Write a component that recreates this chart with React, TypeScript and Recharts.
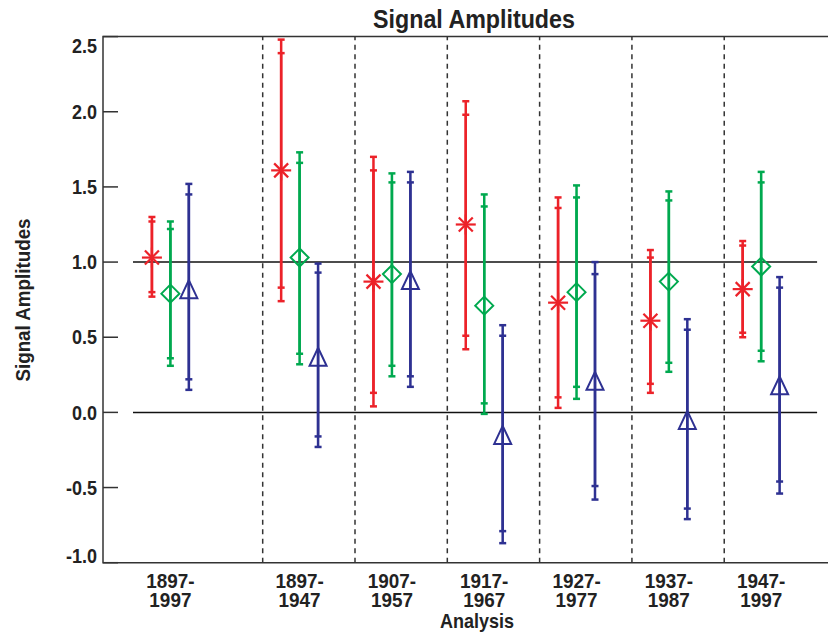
import React from "react";
import { ScatterChart, Scatter, XAxis, YAxis, ErrorBar, ReferenceLine, ReferenceArea } from "recharts";

// group positions on the x axis, and the dashed separators between them
const groupX = [0.73, 2.13, 3.13, 4.13, 5.13, 6.13, 7.13];
const separatorX = [1.73, 2.73, 3.73, 4.73, 5.73, 6.73];
const labelTop = ["1897-", "1897-", "1907-", "1917-", "1927-", "1937-", "1947-"];
const labelBottom = ["1997", "1947", "1957", "1967", "1977", "1987", "1997"];
const yTicks = [-1.0, -0.5, 0.0, 0.5, 1.0, 1.5, 2.0, 2.5];

const redCenter = [1.03, 1.61, 0.87, 1.25, 0.73, 0.61, 0.82];
const redOuterHi = [1.3, 2.48, 1.7, 2.07, 1.43, 1.08, 1.14];
const redInnerHi = [1.27, 2.39, 1.61, 1.98, 1.36, 1.03, 1.11];
const redInnerLo = [0.8, 0.83, 0.13, 0.51, 0.1, 0.19, 0.53];
const redOuterLo = [0.77, 0.74, 0.04, 0.42, 0.03, 0.13, 0.5];

const greenCenter = [0.79, 1.03, 0.92, 0.71, 0.8, 0.87, 0.97];
const greenOuterHi = [1.27, 1.73, 1.59, 1.45, 1.51, 1.47, 1.6];
const greenInnerHi = [1.22, 1.66, 1.53, 1.37, 1.43, 1.41, 1.53];
const greenInnerLo = [0.36, 0.39, 0.31, 0.06, 0.17, 0.33, 0.41];
const greenOuterLo = [0.31, 0.32, 0.24, -0.01, 0.09, 0.27, 0.34];

const blueCenter = [0.82, 0.37, 0.88, -0.15, 0.21, -0.05, 0.18];
const blueOuterHi = [1.52, 0.99, 1.6, 0.58, 1.0, 0.62, 0.9];
const blueInnerHi = [1.45, 0.93, 1.53, 0.51, 0.92, 0.55, 0.83];
const blueInnerLo = [0.22, -0.16, 0.24, -0.79, -0.49, -0.64, -0.46];
const blueOuterLo = [0.15, -0.23, 0.17, -0.87, -0.58, -0.71, -0.54];

const X_MAX = 8.06;
const OFFSET = 0.2;
const RED = "#ec2229";
const GREEN = "#00a94f";
const BLUE = "#2e3192";
const FONT = "'Liberation Sans', Arial, sans-serif";

function build(center: number[], oLo: number[], oHi: number[], iLo: number[], iHi: number[], shift: number) {
  return center.map((c, i) => ({
    x: groupX[i] + shift,
    y: c,
    outer: [c - oLo[i], oHi[i] - c],
    inner: [c - iLo[i], iHi[i] - c],
  }));
}

const redData = build(redCenter, redOuterLo, redOuterHi, redInnerLo, redInnerHi, -OFFSET);
const greenData = build(greenCenter, greenOuterLo, greenOuterHi, greenInnerLo, greenInnerHi, 0);
const blueData = build(blueCenter, blueOuterLo, blueOuterHi, blueInnerLo, blueInnerHi, OFFSET);

const Asterisk = (p: any) => {
  const { cx, cy } = p;
  const r = 10, d = 7;
  return (
    <g stroke={RED} strokeWidth={2.2}>
      <line x1={cx - r} y1={cy} x2={cx + r} y2={cy} />
      <line x1={cx} y1={cy - r} x2={cx} y2={cy + r} />
      <line x1={cx - d} y1={cy - d} x2={cx + d} y2={cy + d} />
      <line x1={cx - d} y1={cy + d} x2={cx + d} y2={cy - d} />
    </g>
  );
};

const Diamond = (p: any) => {
  const { cx, cy } = p;
  return <polygon points={`${cx},${cy - 9} ${cx + 9},${cy} ${cx},${cy + 9} ${cx - 9},${cy}`} fill="none" stroke={GREEN} strokeWidth={2} />;
};

const Triangle = (p: any) => {
  const { cx, cy } = p;
  return <polygon points={`${cx},${cy - 9} ${cx + 8.5},${cy + 9} ${cx - 8.5},${cy + 9}`} fill="none" stroke={BLUE} strokeWidth={2} />;
};

const YTick = (p: any) => {
  const { y, payload } = p;
  const v = payload.value;
  const dy = v === 2.5 ? 16.5 : v === -1 ? 0.5 : 7.2;
  return (
    <g>
      <line x1={95} y1={y} x2={110} y2={y} stroke="#333" strokeWidth={1.5} />
      <line x1={824} y1={y} x2={839} y2={y} stroke="#333" strokeWidth={1.5} />
      <text transform={`translate(89,${y + dy}) scale(0.9,1)`} textAnchor="end" fontFamily={FONT} fontWeight="bold" fontSize={20} fill="#222">
        {v.toFixed(1)}
      </text>
    </g>
  );
};

const XTick = (p: any) => {
  const { x, payload } = p;
  const i = groupX.indexOf(payload.value);
  return (
    <text transform={`translate(${x},580) scale(0.9,1)`} textAnchor="middle" fontFamily={FONT} fontWeight="bold" fontSize={21} fill="#222">
      <tspan x={0} y={0}>{labelTop[i]}</tspan>
      <tspan x={0} y={19}>{labelBottom[i]}</tspan>
    </text>
  );
};

export default function App() {
  return (
    <div style={{ position: "relative", width: 828, height: 626 }}>
      <div style={{ width: 828, height: 626, overflow: "hidden" }}>
        <ScatterChart width={839} height={626} margin={{ top: 28.6, right: 0, bottom: 11.3, left: 0 }}>
          <XAxis dataKey="x" type="number" domain={[0, X_MAX]} ticks={groupX} interval={0} axisLine={false} tickLine={false} height={60} tick={<XTick />} />
          <YAxis dataKey="y" type="number" domain={[-1, 2.5]} ticks={yTicks} interval={0} axisLine={false} tickLine={false} width={95} tick={<YTick />} />
          <ReferenceArea x1={0} x2={X_MAX} y1={-1} y2={2.5} fill="none" stroke="#333" strokeWidth={1.5} />
          {separatorX.map((s) => (
            <ReferenceLine key={s} x={s} stroke="#333" strokeWidth={1.5} strokeDasharray="5 4.5" />
          ))}
          <ReferenceLine segment={[{ x: 0.325, y: 0 }, { x: 7.736, y: 0 }]} stroke="#111" strokeWidth={1.5} />
          <ReferenceLine segment={[{ x: 0.325, y: 1 }, { x: 7.736, y: 1 }]} stroke="#111" strokeWidth={1.5} />
          <Scatter data={redData} shape={Asterisk} isAnimationActive={false}>
            <ErrorBar dataKey="outer" direction="y" width={3.5} stroke={RED} strokeWidth={2.5} isAnimationActive={false} />
            <ErrorBar dataKey="inner" direction="y" width={3.5} stroke={RED} strokeWidth={2.5} isAnimationActive={false} />
          </Scatter>
          <Scatter data={greenData} shape={Diamond} isAnimationActive={false}>
            <ErrorBar dataKey="outer" direction="y" width={3.5} stroke={GREEN} strokeWidth={2.5} isAnimationActive={false} />
            <ErrorBar dataKey="inner" direction="y" width={3.5} stroke={GREEN} strokeWidth={2.5} isAnimationActive={false} />
          </Scatter>
          <Scatter data={blueData} shape={Triangle} isAnimationActive={false}>
            <ErrorBar dataKey="outer" direction="y" width={3.5} stroke={BLUE} strokeWidth={2.5} isAnimationActive={false} />
            <ErrorBar dataKey="inner" direction="y" width={3.5} stroke={BLUE} strokeWidth={2.5} isAnimationActive={false} />
          </Scatter>
        </ScatterChart>
      </div>
      <svg width={836} height={634} style={{ position: "absolute", left: -8, top: -8, pointerEvents: "none" }} fontFamily={FONT} fontWeight="bold" fill="#222">
        <text transform="translate(474,27.5) scale(0.93,1)" textAnchor="middle" fontSize={25}>Signal Amplitudes</text>
        <text transform="translate(29.5,300) rotate(-90) scale(0.94,1)" textAnchor="middle" fontSize={20}>Signal Amplitudes</text>
        <text transform="translate(477,628) scale(0.9,1)" textAnchor="middle" fontSize={20}>Analysis</text>
      </svg>
    </div>
  );
}
